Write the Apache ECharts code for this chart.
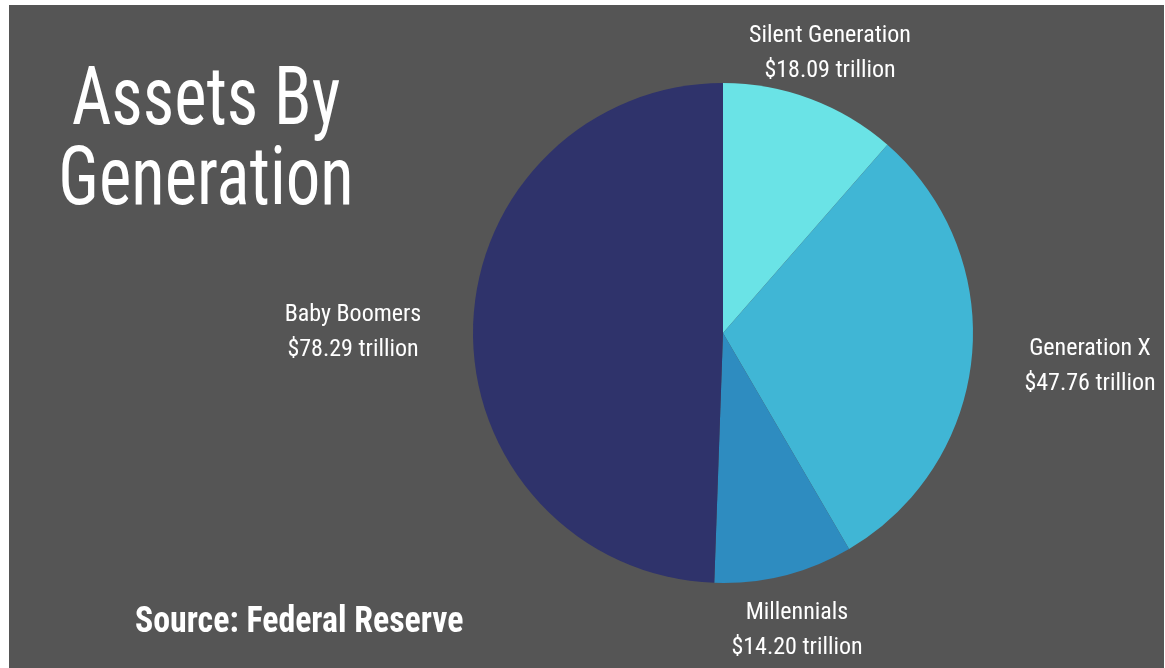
<!DOCTYPE html>
<html>
<head>
<meta charset="utf-8">
<script src="https://cdn.jsdelivr.net/npm/echarts@6/dist/echarts.min.js"></script>
<style>
html,body{margin:0;padding:0;background:#fff;}
#chart{width:1165px;height:668px;}
</style>
</head>
<body>
<div id="chart"></div>
<script>
const categories = ['Silent Generation', 'Generation X', 'Millennials', 'Baby Boomers'];
const values = [18.09, 47.76, 14.20, 78.29];
const colors = ['#6ae3e6', '#40b6d5', '#2e8cc0', '#2f336b'];
const labelAnchors = [[830, 53], [1090, 366], [797, 630], [353, 332]];

const FONT = '"Roboto Condensed", "Liberation Sans Narrow", "DejaVu Sans Condensed", sans-serif';
const chart = echarts.init(document.getElementById('chart'));
chart.setOption({
  backgroundColor: '#ffffff',
  animation: false,
  graphic: [{
    type: 'rect', z: -10, silent: true,
    shape: { x: 9, y: 5, width: 1155, height: 663 },
    style: { fill: '#555555' }
  }, {
    type: 'text', silent: true,
    x: 206, y: 63, scaleX: 0.84,
    style: {
      text: 'Assets By\nGeneration',
      fill: '#ffffff',
      font: 'normal 82px ' + FONT,
      lineHeight: 80,
      textAlign: 'center',
      textVerticalAlign: 'top'
    }
  }, {
    type: 'text', silent: true,
    x: 135, y: 605, scaleX: 0.94,
    style: {
      text: 'Source: Federal Reserve',
      fill: '#ffffff',
      font: 'bold 36px ' + FONT,
      textAlign: 'left',
      textVerticalAlign: 'top'
    }
  }],
  series: [{
    type: 'pie',
    center: [723, 333],
    radius: 250,
    startAngle: 90,
    clockwise: true,
    label: {
      show: true,
      position: 'outside',
      color: '#ffffff',
      fontFamily: FONT,
      fontSize: 24,
      lineHeight: 35,
      align: 'center',
      overflow: 'none',
      formatter: p => p.name + '\n$' + p.value.toFixed(2) + ' trillion'
    },
    labelLine: { show: false },
    labelLayout: p => ({ x: labelAnchors[p.dataIndex][0], y: labelAnchors[p.dataIndex][1], align: 'center', verticalAlign: 'middle' }),
    itemStyle: { borderWidth: 0 },
    emphasis: { disabled: true },
    data: categories.map((c, i) => ({ name: c, value: values[i], itemStyle: { color: colors[i] } }))
  }]
});
</script>
</body>
</html>
